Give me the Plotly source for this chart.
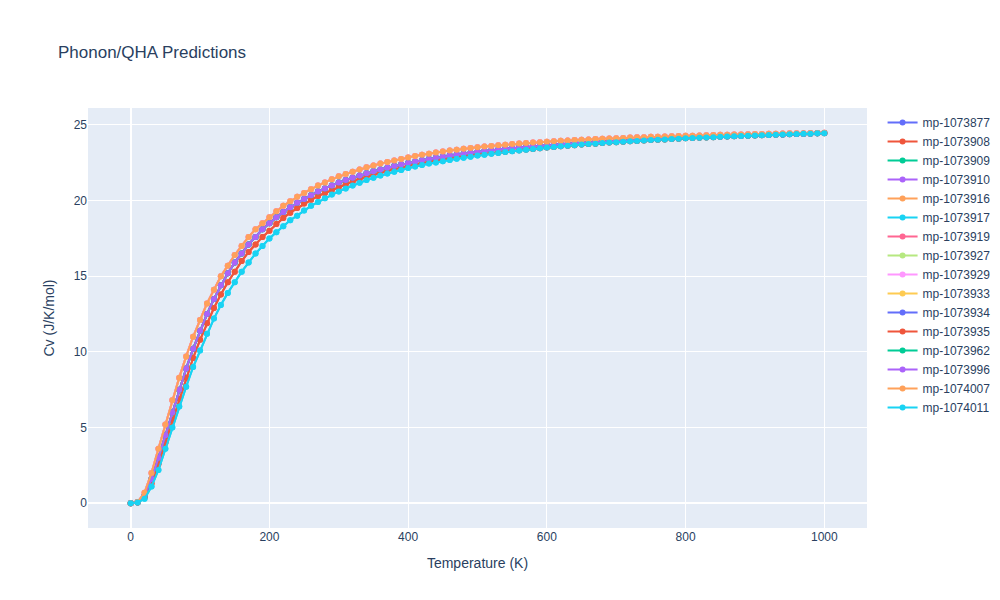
import plotly.graph_objects as go

temps = list(range(0, 1001, 10))

curve_fast = [0,0.08,0.7,2.0,3.6,5.2,6.8,8.3,9.7,11.0,
 12.1,13.2,14.1,15.0,15.7,16.4,17.0,17.6,18.1,18.5,
 18.9,19.3,19.65,19.95,20.25,20.5,20.75,21.0,21.2,21.4,
 21.6,
 21.75,21.9,22.05,22.2,22.32,22.44,22.55,22.65,22.75,22.85,
 22.94,23.02,23.1,23.17,23.24,23.3,23.36,23.42,23.47,23.52,
 23.57,23.61,23.65,23.69,23.73,23.77,23.8,23.83,23.86,23.89,
 23.92,23.95,23.97,24.0,24.02,24.04,24.06,24.08,24.1,24.12,
 24.14,24.16,24.18,24.19,24.21,24.22,24.24,24.25,24.27,24.28,
 24.29,24.3,24.32,24.33,24.34,24.35,24.36,24.37,24.38,24.39,
 24.4,24.41,24.42,24.43,24.44,24.45,24.45,24.46,24.47,24.48]

curve_mid = [0,0.06,0.5,1.6,3.0,4.5,6.0,7.5,8.9,10.2,
 11.4,12.5,13.5,14.4,15.2,15.9,16.5,17.1,17.6,18.1,
 18.5,18.9,19.25,19.55,19.85,20.1,20.35,20.6,20.8,21.0,
 21.2,
 21.35,21.5,21.65,21.8,21.93,22.05,22.17,22.28,22.38,22.48,
 22.57,22.66,22.74,22.82,22.9,22.97,23.04,23.1,23.16,23.22,
 23.27,23.32,23.37,23.42,23.46,23.5,23.54,23.58,23.62,23.65,
 23.69,23.72,23.75,23.78,23.81,23.84,23.87,23.89,23.92,23.94,
 23.97,23.99,24.01,24.03,24.05,24.07,24.09,24.11,24.13,24.15,
 24.17,24.19,24.2,24.22,24.24,24.25,24.27,24.28,24.3,24.31,
 24.33,24.34,24.36,24.37,24.39,24.4,24.42,24.43,24.45,24.46]

curve_red = [0,0.05,0.4,1.3,2.6,4.0,5.5,6.9,8.3,9.6,
 10.8,11.9,12.9,13.8,14.6,15.3,16.0,16.6,17.1,17.6,
 18.0,18.45,18.85,19.2,19.5,19.8,20.05,20.3,20.5,20.7,
 20.9,
 21.08,21.25,21.42,21.57,21.71,21.84,21.96,22.08,22.19,22.3,
 22.39,22.48,22.56,22.64,22.71,22.78,22.85,22.91,22.97,23.03,
 23.08,23.13,23.18,23.23,23.28,23.32,23.37,23.41,23.46,23.5,
 23.54,23.58,23.62,23.66,23.7,23.73,23.76,23.8,23.83,23.86,
 23.89,23.92,23.94,23.97,24.0,24.02,24.04,24.07,24.09,24.11,
 24.13,24.15,24.17,24.19,24.21,24.23,24.25,24.27,24.28,24.3,
 24.32,24.33,24.35,24.36,24.38,24.39,24.41,24.42,24.44,24.45]

curve_slow = [0,0.05,0.3,1.1,2.2,3.6,5.0,6.4,7.7,9.0,
 10.1,11.2,12.2,13.1,13.9,14.6,15.3,15.9,16.5,17.0,
 17.5,17.9,18.3,18.7,19.0,19.35,19.65,19.9,20.15,20.4,
 20.6,
 20.8,21.0,21.18,21.35,21.5,21.65,21.78,21.9,22.02,22.15,
 22.25,22.35,22.44,22.52,22.6,22.68,22.76,22.83,22.9,22.97,
 23.03,23.09,23.15,23.2,23.25,23.3,23.35,23.4,23.45,23.5,
 23.54,23.58,23.62,23.66,23.7,23.73,23.76,23.8,23.83,23.86,
 23.89,23.92,23.94,23.97,24.0,24.02,24.04,24.07,24.09,24.11,
 24.13,24.15,24.17,24.19,24.21,24.23,24.25,24.27,24.28,24.3,
 24.32,24.33,24.35,24.36,24.38,24.39,24.41,24.42,24.44,24.45]

materials = ["mp-1073877","mp-1073908","mp-1073909","mp-1073910","mp-1073916",
             "mp-1073917","mp-1073919","mp-1073927","mp-1073929","mp-1073933",
             "mp-1073934","mp-1073935","mp-1073962","mp-1073996","mp-1074007","mp-1074011"]
series_cv = [curve_mid, curve_red, curve_mid, curve_mid, curve_fast,
             curve_slow, curve_fast, curve_mid, curve_fast, curve_mid,
             curve_mid, curve_red, curve_mid, curve_mid, curve_fast, curve_slow]

fig = go.Figure()
for name, cv in zip(materials, series_cv):
    fig.add_trace(go.Scatter(x=temps, y=cv, mode="lines+markers", name=name,
                             marker=dict(size=6)))
fig.update_layout(width=1000, height=600, title="Phonon/QHA Predictions",
                  font=dict(family="Liberation Sans, Arial, sans-serif"),
                  xaxis_title="Temperature (K)", yaxis_title="Cv (J/K/mol)")
fig.write_html("out.html")
